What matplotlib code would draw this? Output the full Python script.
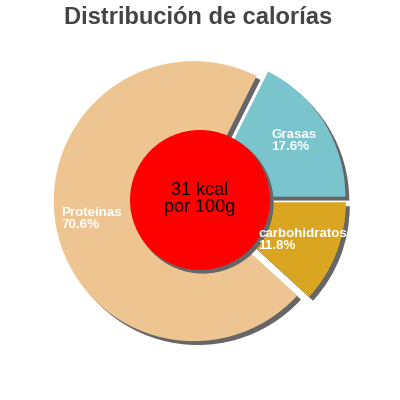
import numpy as np
import matplotlib
matplotlib.use("Agg")
import matplotlib.pyplot as plt
from matplotlib.patches import Circle, Shadow

# Données
categories = ["Grasas", "Proteínas", "carbohidratos"]
valeurs = [17.6, 70.6, 11.8]
couleurs = ["#7AC5CD", "#EEC591", "#DAA520"]
kcal = 31

# position du texte de chaque part (coord. données, ancré à gauche)
pos_labels = [(0.51, 0.42), (-0.99, -0.135), (0.415, -0.285)]

plt.rcParams['font.family'] = ['Liberation Sans', 'DejaVu Sans']

fig = plt.figure(figsize=(4, 4), dpi=100)
ax = fig.add_axes([0, 0, 1, 1])

ombre = {'ox': 0.02, 'oy': -0.02, 'facecolor': '#666666',
         'edgecolor': '#666666', 'alpha': 1}

wedges, _ = ax.pie(valeurs, colors=couleurs, startangle=0,
                   explode=[0.045] * len(valeurs), radius=1,
                   shadow=ombre, wedgeprops={'linewidth': 0})

# cercle central
centre = Circle((0, 0), 0.5, facecolor='#FF0000', edgecolor='none', zorder=3)
ax.add_patch(centre)
ax.add_patch(Shadow(centre, 0.015, -0.015, facecolor='#666666',
                    edgecolor='#666666', alpha=1))
ax.text(0, 0.005, f"{kcal} kcal\npor 100g", ha='center', va='center',
        fontsize=13, color='black', linespacing=1.0, zorder=4)

for cat, val, (x, y) in zip(categories, valeurs, pos_labels):
    ax.text(x, y, f"{cat}\n{val:.1f}%", ha='left', va='center',
            fontsize=9.6, fontweight='bold', color='white',
            linespacing=0.95, zorder=5)

lim = 200 / 140
ax.set_xlim(-lim, lim)
ax.set_ylim(-lim, lim)
ax.set_aspect('equal')
ax.axis('off')

fig.text(0.495, 1 - 24 / 400, "Distribución de calorías", ha='center',
         va='baseline', fontsize=17, fontweight='bold', color='#444444')

fig.savefig("out.png", dpi=100)
